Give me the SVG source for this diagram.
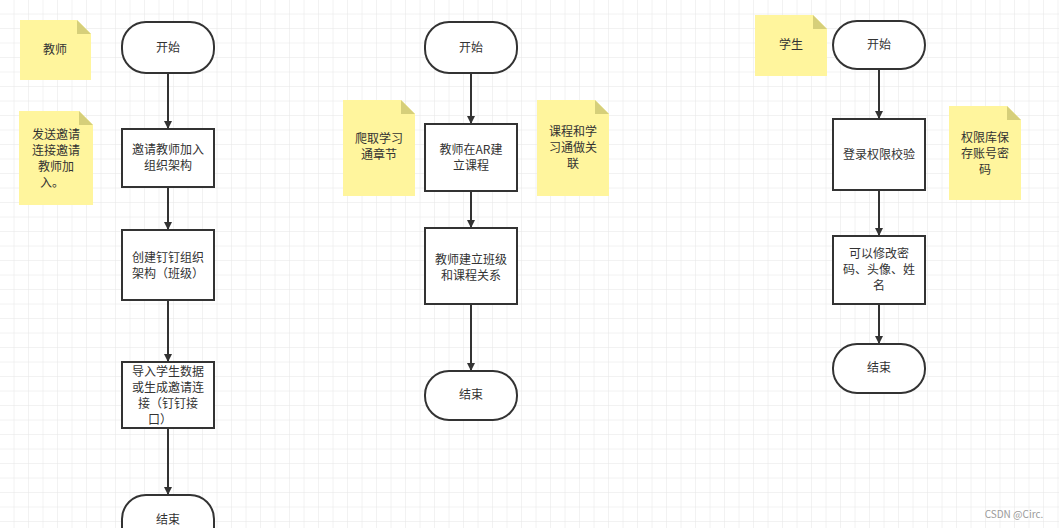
<svg xmlns="http://www.w3.org/2000/svg" width="1059" height="528" viewBox="0 0 1059 528">
<defs>
<pattern id="g" width="14.5" height="14.5" patternUnits="userSpaceOnUse"><path d="M14.5 0V14.5H0" fill="none" stroke="#e6e6e6" stroke-width="1"/></pattern>
<marker id="a" markerWidth="10" markerHeight="10" refX="9" refY="5" orient="auto" markerUnits="userSpaceOnUse"><path d="M1 1L9 5L1 9Z" fill="#333"/></marker>
<style>
.n{fill:#fff;stroke:#333;stroke-width:2}
.note{fill:#fff59d}
.fold{fill:#d6cf7a}
text{font-family:"Noto Sans CJK SC","Liberation Sans",sans-serif;font-size:12px;fill:#333;text-anchor:middle}
.c{stroke:#333;stroke-width:2;fill:none;marker-end:url(#a)}
</style>
</defs>
<rect width="1059" height="528" fill="#fff"/>
<rect width="1059" height="528" fill="url(#g)"/>
<g id="connectors">
<path class="c" d="M168 73V129"/><path class="c" d="M168 187V230"/><path class="c" d="M168 300V362"/><path class="c" d="M168 428V495"/>
<path class="c" d="M471 73V124"/><path class="c" d="M471 191V228"/><path class="c" d="M471 304V371"/>
<path class="c" d="M879 69V119"/><path class="c" d="M879 190V236"/><path class="c" d="M879 304V344"/>
</g>
<g id="note1"><path class="note" d="M20 20H77L91 34V80H20Z"/><path class="fold" d="M77 20L91 34H77Z"/><text x="55" y="54">教师</text></g>
<g id="note2"><path class="note" d="M19 111H79L93 125V205H19Z"/><path class="fold" d="M79 111L93 125H79Z"/><text x="56" y="139">发送邀请</text><text x="56" y="155">连接邀请</text><text x="56" y="171">教师加</text><text x="52" y="187">入。</text></g>
<g id="s1"><rect class="n" x="122" y="22" width="92" height="51" rx="24"/><text x="168" y="52">开始</text></g>
<g id="b1"><rect class="n" x="122" y="129" width="92" height="58"/><text x="168" y="154">邀请教师加入</text><text x="168" y="170">组织架构</text></g>
<g id="b2"><rect class="n" x="122" y="230" width="92" height="70"/><text x="168" y="262">创建钉钉组织</text><text x="168" y="278">架构（班级）</text></g>
<g id="b3"><rect class="n" x="122" y="362" width="92" height="66"/><text x="168" y="376">导入学生数据</text><text x="168" y="392">或生成邀请连</text><text x="168" y="408">接（钉钉接</text><text x="160" y="424">口）</text></g>
<g id="e1"><rect class="n" x="122" y="495" width="92" height="60" rx="24"/><text x="168" y="524">结束</text></g>
<g id="note3"><path class="note" d="M343 100H401L415 114V196H343Z"/><path class="fold" d="M401 100L415 114H401Z"/><text x="379" y="143">爬取学习</text><text x="379" y="159">通章节</text></g>
<g id="note4"><path class="note" d="M537 100H595L609 114V196H537Z"/><path class="fold" d="M595 100L609 114H595Z"/><text x="573" y="136">课程和学</text><text x="573" y="152">习通做关</text><text x="573" y="168">联</text></g>
<g id="s2"><rect class="n" x="425" y="22" width="92" height="51" rx="24"/><text x="471" y="52">开始</text></g>
<g id="b4"><rect class="n" x="425" y="124" width="92" height="67"/><text x="471" y="154">教师在AR建</text><text x="471" y="170">立课程</text></g>
<g id="b5"><rect class="n" x="425" y="228" width="92" height="76"/><text x="471" y="264">教师建立班级</text><text x="471" y="280">和课程关系</text></g>
<g id="e2"><rect class="n" x="425" y="371" width="92" height="49" rx="24"/><text x="471" y="399">结束</text></g>
<g id="note5"><path class="note" d="M755 15H813L827 29V76H755Z"/><path class="fold" d="M813 15L827 29H813Z"/><text x="791" y="49">学生</text></g>
<g id="note6"><path class="note" d="M949 106H1007L1021 120V200H949Z"/><path class="fold" d="M1007 106L1021 120H1007Z"/><text x="985" y="142">权限库保</text><text x="985" y="158">存账号密</text><text x="985" y="174">码</text></g>
<g id="s3"><rect class="n" x="833" y="21" width="92" height="48" rx="24"/><text x="879" y="49">开始</text></g>
<g id="b6"><rect class="n" x="833" y="119" width="92" height="71"/><text x="879" y="159">登录权限校验</text></g>
<g id="b7"><rect class="n" x="833" y="236" width="92" height="68"/><text x="879" y="258">可以修改密</text><text x="879" y="274">码、头像、姓</text><text x="879" y="290">名</text></g>
<g id="e3"><rect class="n" x="833" y="344" width="92" height="49" rx="24"/><text x="879" y="372">结束</text></g>
<text x="1014" y="518" style="font-size:10px;fill:#999">CSDN @Circ.</text>
</svg>
